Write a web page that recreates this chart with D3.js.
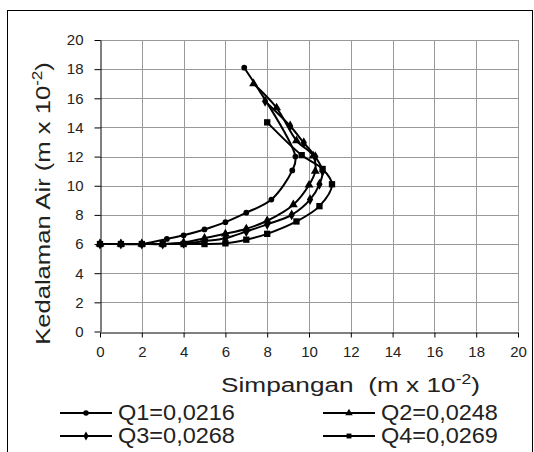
<!DOCTYPE html>
<html><head><meta charset="utf-8">
<script src="https://cdn.jsdelivr.net/npm/d3@7"></script>
<style>body{margin:0;background:#fff}svg{display:block}text{font-family:"Liberation Sans",Arial,sans-serif}</style>
</head><body>
<svg id="c" width="534" height="452"></svg>
<script>
const xTicks = [0,2,4,6,8,10,12,14,16,18,20];
const yTicks = [0,2,4,6,8,10,12,14,16,18,20];
const seriesNames = ["Q1=0,0216","Q2=0,0248","Q3=0,0268","Q4=0,0269"];
const seriesMarkers = ["circle","triangle","diamond","square"];
const q1 = [[0,6],[1,6],[2,6],[3.2,6.35],[4,6.6],[5,7.0],[6,7.5],[7,8.15],[8.2,9.05],[9.2,11.05],[9.35,12.0],[6.9,18.1]];
const q2 = [[0,6],[1,6],[2,6],[3,6],[4,6.1],[5,6.4],[6,6.7],[7,7.05],[8,7.6],[9.25,8.7],[10,10.05],[10.3,11.0],[10.2,12.05],[9.4,13.1],[8.45,15.35],[7.35,17.0]];
const q3 = [[0,6],[1,6],[2,6],[3,6],[4,6.05],[5,6.2],[6,6.4],[7,6.86],[8,7.35],[9.17,8.0],[10.05,9.05],[10.5,10.1],[10.65,11.0],[10.3,12.0],[9.75,12.95],[9.1,14.1],[7.9,15.8]];
const q4 = [[0,6],[1,6],[2,6],[3,6],[4,6],[5,6],[6,6.05],[7,6.3],[8,6.7],[9.4,7.55],[10.5,8.6],[11.1,10.1],[10.65,11.15],[9.65,12.1],[8.0,14.35]];
const allSeries = [q1,q2,q3,q4];

const svg = d3.select("#c");
const x = d3.scaleLinear().domain([0,20]).range([100,518]);
const y = d3.scaleLinear().domain([0,20]).range([331.5,40]);

// stretch a text element horizontally so it spans targetW, anchored at (ax, ay) start
function fitText(t, targetW){
  const w = t.node().getComputedTextLength();
  return targetW / w;
}

// outer frame
svg.append("rect").attr("x",7.5).attr("y",10.5).attr("width",525).attr("height",460)
  .attr("fill","none").attr("stroke","#000").attr("stroke-width",1);

// grid
const g = svg.append("g");
g.selectAll(".vg").data(xTicks.slice(1)).join("line")
  .attr("x1",d=>Math.round(x(d))+0.5).attr("x2",d=>Math.round(x(d))+0.5)
  .attr("y1",y(0)).attr("y2",y(20)).attr("stroke","#999").attr("stroke-width",1);
g.selectAll(".hg").data(yTicks.slice(1)).join("line")
  .attr("y1",d=>Math.round(y(d))+0.5).attr("y2",d=>Math.round(y(d))+0.5)
  .attr("x1",x(0)).attr("x2",x(20)).attr("stroke","#999").attr("stroke-width",1);

// axes
const xAxis = d3.axisBottom(x).tickValues(xTicks).tickSize(5).tickSizeOuter(0).tickPadding(9);
const yAxis = d3.axisLeft(y).tickValues(yTicks).tickSize(6).tickSizeOuter(0).tickPadding(11);
const gx = svg.append("g").attr("transform",`translate(0,${Math.round(y(0))+0.5})`).call(xAxis);
const gy = svg.append("g").attr("transform",`translate(${Math.round(x(0))+0.5},0)`).call(yAxis);
[gx,gy].forEach(a=>{
  a.select(".domain").attr("stroke","#000");
  a.selectAll(".tick line").attr("stroke","#000");
  a.selectAll(".tick text").attr("font-size",15).attr("fill","#222").attr("font-family","Liberation Sans, Arial, sans-serif");
});

// series
const line = d3.line().x(d=>x(d[0])).y(d=>y(d[1])).curve(d3.curveCatmullRom.alpha(0.5));
const sym = {
  circle: d3.symbol().type(d3.symbolCircle).size(26),
  triangle: d3.symbol().type(d3.symbolTriangle).size(34),
  diamond: d3.symbol().type(d3.symbolDiamond).size(34),
  square: d3.symbol().type(d3.symbolSquare).size(40)
};
allSeries.forEach((s,i)=>{
  svg.append("path").datum(s).attr("d",line).attr("fill","none").attr("stroke","#000").attr("stroke-width",2);
  svg.append("g").selectAll("path").data(s).join("path")
    .attr("transform",d=>`translate(${x(d[0])},${y(d[1])})`)
    .attr("d",sym[seriesMarkers[i]]()).attr("fill","#000");
});

// axis titles
const ytg = svg.append("g");
const yt = ytg.append("text").attr("x",0).attr("y",0)
  .attr("text-anchor","middle").attr("font-size",21).attr("fill","#222");
yt.append("tspan").text("Kedalaman Air (m x 10");
yt.append("tspan").attr("font-size",14).attr("dy",-8).text("-2");
yt.append("tspan").attr("dy",8).text(")");
const sy = fitText(yt, 283);
ytg.attr("transform",`translate(50,203.5) rotate(-90) scale(${sy},1)`);

const xtg = svg.append("g");
const xt = xtg.append("text").attr("x",0).attr("y",0).attr("font-size",21).attr("fill","#222")
  .attr("xml:space","preserve");
xt.append("tspan").text("Simpangan  (m x 10");
xt.append("tspan").attr("font-size",14).attr("dy",-8).text("-2");
xt.append("tspan").attr("dy",8).text(")");
const sx = fitText(xt, 259);
xtg.attr("transform",`translate(221,392) scale(${sx},1)`);

// legend
const legPos = [[60,413],[323,413],[60,436],[323,436]];
const legTypes = [d3.symbolCircle,d3.symbolTriangle,d3.symbolDiamond,d3.symbolSquare];
seriesNames.forEach((n,i)=>{
  const [lx,ly] = legPos[i];
  svg.append("line").attr("x1",lx).attr("x2",lx+52).attr("y1",ly).attr("y2",ly).attr("stroke","#000").attr("stroke-width",2);
  svg.append("path").attr("transform",`translate(${lx+26},${ly})`).attr("d",d3.symbol().type(legTypes[i]).size(24)()).attr("fill","#000");
  const tg = svg.append("g");
  const t = tg.append("text").attr("x",0).attr("y",0).attr("font-size",21.5).attr("fill","#222").text(n);
  const s = fitText(t, 117);
  tg.attr("transform",`translate(${lx+58},${ly+7}) scale(${s},1)`);
});
</script>
</body></html>
